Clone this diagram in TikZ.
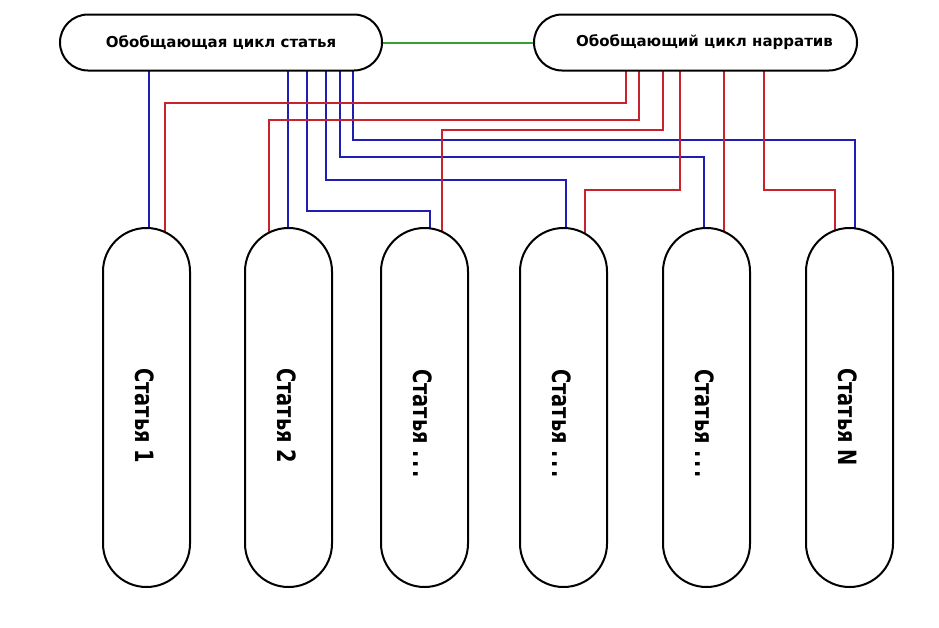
\documentclass[tikz,border=0pt]{standalone}
\usepackage{fontspec}
\setmainfont{DejaVu Sans}
\usetikzlibrary{backgrounds}
\definecolor{myblue}{RGB}{30,30,180}
\definecolor{myred}{RGB}{200,35,45}
\definecolor{mygreen}{RGB}{50,160,50}
\newcommand{\mydots}{.\kern2.5pt.\kern2.5pt.}
\begin{document}
\begin{tikzpicture}[x=1pt,y=-1pt,
  box/.style={draw=black, line width=2pt, fill=white, rounded corners=28pt,
    minimum width=322pt, minimum height=56pt, inner sep=0pt,
    font=\fontsize{15}{18}\selectfont\bfseries},
  pill/.style={draw=black, line width=2pt, fill=white, rounded corners=43.5pt,
    minimum width=87pt, minimum height=359pt, inner sep=0pt},
  ptext/.style={rotate=-90, anchor=west, inner sep=0pt,
    font=\fontsize{19.4}{22}\selectfont\bfseries},
  bl/.style={draw=myblue, line width=2.2pt},
  rd/.style={draw=myred, line width=2.2pt},
  gr/.style={draw=mygreen, line width=2pt}]
\useasboundingbox (0,0) rectangle (939,627);

\node[box] (L) at (221,42.5) {Обобщающая цикл статья};
\node[box, minimum width=323pt] (R) at (695.5,42.5) {\hspace*{18pt}Обобщающий цикл нарратив};

\node[pill] (p1) at (146.5,407.5) {};
\node[pill] (p2) at (288.5,407.5) {};
\node[pill] (p3) at (424.5,407.5) {};
\node[pill] (p4) at (563.5,407.5) {};
\node[pill] (p5) at (706.5,407.5) {};
\node[pill] (p6) at (849.5,407.5) {};

\node[ptext] (t1) at (144.5,368) {\scalebox{1}[1.3]{Статья 1}};
\node[ptext] (t2) at (286.5,368) {\scalebox{1}[1.3]{Статья 2}};
\node[ptext] (t3) at (422.5,369) {\scalebox{1}[1.3]{Статья \mydots}};
\node[ptext] (t4) at (561.5,369) {\scalebox{1}[1.3]{Статья \mydots}};
\node[ptext] (t5) at (704.5,369) {\scalebox{1}[1.3]{Статья \mydots}};
\node[ptext] (t6) at (847.5,368) {\scalebox{1}[1.3]{Статья N}};

\begin{scope}[on background layer]
\fill[white] (0,0) rectangle (939,627);
\draw[gr] (L.east) -- (R.west);
% blue
\draw[bl] (149,0 |- L.center) -- (149,0 |- p1.center);
\draw[bl] (288,0 |- L.center) -- (288,0 |- p2.center);
\draw[bl] (307,0 |- L.center) |- (430,211) -- (430,0 |- p3.center);
\draw[bl] (326,0 |- L.center) |- (566,180) -- (566,0 |- p4.center);
\draw[bl] (340,0 |- L.center) |- (704,157) -- (704,0 |- p5.center);
\draw[bl] (353,0 |- L.center) |- (855,140) -- (855,0 |- p6.center);
% red
\draw[rd] (626,0 |- R.center) |- (165,103) -- (165,0 |- p1.center);
\draw[rd] (639,0 |- R.center) |- (269,120) -- (269,0 |- p2.center);
\draw[rd] (663,0 |- R.center) |- (442,130) -- (442,0 |- p3.center);
\draw[rd] (680,0 |- R.center) |- (585,190) -- (585,0 |- p4.center);
\draw[rd] (724,0 |- R.center) -- (724,0 |- p5.center);
\draw[rd] (764,0 |- R.center) |- (835,190) -- (835,0 |- p6.center);
\end{scope}
\end{tikzpicture}
\end{document}
